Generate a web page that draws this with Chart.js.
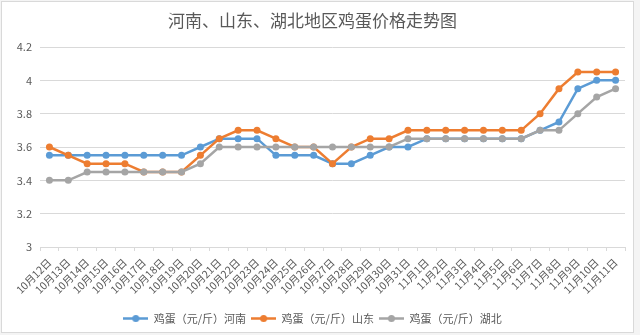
<!DOCTYPE html>
<html>
<head>
<meta charset="utf-8">
<script src="https://cdn.jsdelivr.net/npm/chart.js@4/dist/chart.umd.min.js"></script>
<style>
  body { margin: 0; background: #fff; }
  #wrap { width: 640px; height: 335px; }
</style>
</head>
<body>
<div id="wrap"><canvas id="eggChart" width="640" height="335"></canvas></div>
<script>
var dates = ['10月12日', '10月13日', '10月14日', '10月15日', '10月16日', '10月17日', '10月18日', '10月19日',
    '10月20日', '10月21日', '10月22日', '10月23日', '10月24日', '10月25日', '10月26日', '10月27日',
    '10月28日', '10月29日', '10月30日', '10月31日', '11月1日', '11月2日', '11月3日', '11月4日',
    '11月5日', '11月6日', '11月7日', '11月8日', '11月9日', '11月10日', '11月11日'];

var henan = [3.55, 3.55, 3.55, 3.55, 3.55, 3.55, 3.55, 3.55, 3.6, 3.65, 3.65, 3.65, 3.55, 3.55, 3.55, 3.5,
    3.5, 3.55, 3.6, 3.6, 3.65, 3.65, 3.65, 3.65, 3.65, 3.65, 3.7, 3.75, 3.95, 4.0, 4.0];
var shandong = [3.6, 3.55, 3.5, 3.5, 3.5, 3.45, 3.45, 3.45, 3.55, 3.65, 3.7, 3.7, 3.65, 3.6, 3.6, 3.5,
    3.6, 3.65, 3.65, 3.7, 3.7, 3.7, 3.7, 3.7, 3.7, 3.7, 3.8, 3.95, 4.05, 4.05, 4.05];
var hubei = [3.4, 3.4, 3.45, 3.45, 3.45, 3.45, 3.45, 3.45, 3.5, 3.6, 3.6, 3.6, 3.6, 3.6, 3.6, 3.6,
    3.6, 3.6, 3.6, 3.65, 3.65, 3.65, 3.65, 3.65, 3.65, 3.65, 3.7, 3.7, 3.8, 3.9, 3.95];

var seriesNames = ['鸡蛋（元/斤）河南', '鸡蛋（元/斤）山东', '鸡蛋（元/斤）湖北'];
var colors = ['#5b9bd5', '#ed7d31', '#a5a5a5'];

var FONT = '"Noto Sans CJK SC", "Noto Sans", sans-serif';

// legend marker: short line with a dot, like excel
function legendMarker(color) {
    var c = document.createElement('canvas');
    c.width = 25;
    c.height = 9;
    var ctx = c.getContext('2d');
    ctx.strokeStyle = color;
    ctx.lineWidth = 2.5;
    ctx.beginPath();
    ctx.moveTo(0, 4.5);
    ctx.lineTo(25, 4.5);
    ctx.stroke();
    ctx.fillStyle = color;
    ctx.beginPath();
    ctx.arc(12.5, 4.5, 3.5, 0, Math.PI * 2);
    ctx.fill();
    return c;
}
var markers = colors.map(legendMarker);

var frame = {
    id: 'frame',
    beforeDraw: function(chart) {
        var ctx = chart.ctx;
        ctx.save();
        ctx.fillStyle = '#f4f4f4';
        ctx.fillRect(0, 0, chart.width, chart.height);
        ctx.fillStyle = '#ffffff';
        ctx.fillRect(1, 1, 633, 332);
        ctx.strokeStyle = '#d9d9d9';
        ctx.lineWidth = 1;
        ctx.strokeRect(1.5, 1.5, 632, 331);
        ctx.restore();
    }
};

function makeSet(i, values) {
    return {
        label: seriesNames[i],
        data: values,
        borderColor: colors[i],
        backgroundColor: colors[i],
        borderWidth: 2.5,
        pointRadius: 3.5,
        pointBorderWidth: 0,
        tension: 0,
        order: 3 - i          // excel draws the last series on top
    };
}

new Chart(document.getElementById('eggChart'), {
    type: 'line',
    data: {
        labels: dates,
        datasets: [makeSet(0, henan), makeSet(1, shandong), makeSet(2, hubei)]
    },
    options: {
        responsive: false,
        animation: false,
        layout: { padding: { left: 0, right: 15, top: 0, bottom: 1 } },
        plugins: {
            title: {
                display: true,
                text: '河南、山东、湖北地区鸡蛋价格走势图',
                color: '#595959',
                font: { family: FONT, size: 17, weight: 'normal' },
                padding: { top: 10, bottom: 16.6 }
            },
            legend: {
                position: 'bottom',
                labels: {
                    color: '#595959',
                    font: { family: FONT, size: 11 },
                    padding: 5,
                    usePointStyle: true,
                    pointStyleWidth: 25,
                    sort: function(a, b) { return a.datasetIndex - b.datasetIndex; },
                    generateLabels: function(chart) {
                        var items = Chart.defaults.plugins.legend.labels.generateLabels(chart);
                        items.forEach(function(it) { it.pointStyle = markers[it.datasetIndex]; });
                        return items;
                    }
                }
            },
            tooltip: { enabled: false }
        },
        scales: {
            x: {
                offset: true,
                grid: { offset: true, drawOnChartArea: false, drawTicks: true, tickLength: 4, color: '#d9d9d9' },
                border: { color: '#d9d9d9' },
                ticks: {
                    color: '#595959',
                    font: { family: FONT, size: 10.5 },
                    minRotation: 45,
                    maxRotation: 45,
                    autoSkip: false,
                    padding: 5
                },
                afterFit: function(scale) { scale.height = 61; }
            },
            y: {
                min: 3,
                max: 4.2,
                grid: { color: '#d9d9d9', drawTicks: false },
                border: { display: false },
                ticks: {
                    stepSize: 0.2,
                    color: '#595959',
                    font: { family: FONT, size: 11 },
                    padding: 8,
                    callback: function(v) { return String(+v.toFixed(1)); }
                },
                afterFit: function(scale) { scale.width = 40; }
            }
        }
    },
    plugins: [frame]
});
</script>
</body>
</html>
